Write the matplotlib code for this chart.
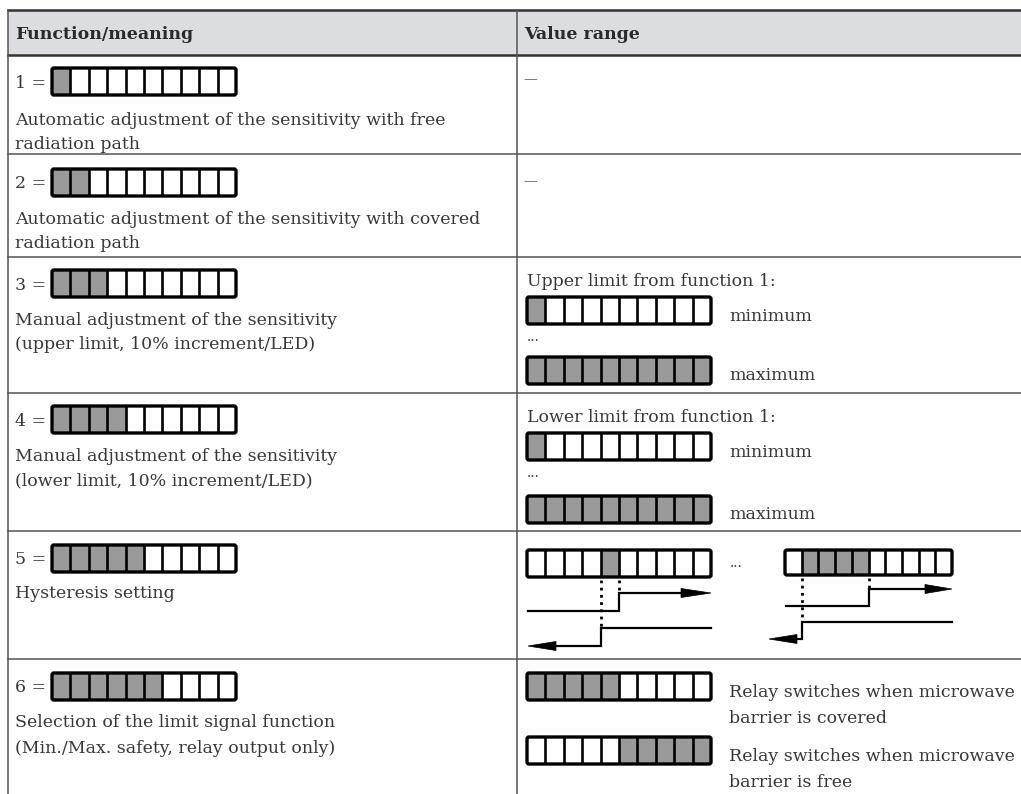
import matplotlib.pyplot as plt
from matplotlib.patches import Rectangle, FancyBboxPatch, Polygon

plt.rcParams['font.family'] = 'DejaVu Serif'

N_LEDS = 10
LIT = '#9a9a9a'
INK = '#383838'
FS = 12.5

# table content
header = ["Function/meaning", "Value range"]
func_ids = [1, 2, 3, 4, 5, 6]
func_lit = [1, 2, 3, 4, 5, 6]          # LEDs lit to show the function number
func_text = [
    ["Automatic adjustment of the sensitivity with free", "radiation path"],
    ["Automatic adjustment of the sensitivity with covered", "radiation path"],
    ["Manual adjustment of the sensitivity", "(upper limit, 10% increment/LED)"],
    ["Manual adjustment of the sensitivity", "(lower limit, 10% increment/LED)"],
    ["Hysteresis setting"],
    ["Selection of the limit signal function", "(Min./Max. safety, relay output only)"],
]
no_range = "—"
limit_titles = ["Upper limit from function 1:", "Lower limit from function 1:"]
limit_labels = ["minimum", "maximum"]
limit_leds = [[1, 0, 0, 0, 0, 0, 0, 0, 0, 0],
              [1, 1, 1, 1, 1, 1, 1, 1, 1, 1]]
hyst_leds = [[0, 0, 0, 0, 1, 0, 0, 0, 0, 0],
             [0, 1, 1, 1, 1, 0, 0, 0, 0, 0]]
relay_leds = [[1, 1, 1, 1, 1, 0, 0, 0, 0, 0],
              [0, 0, 0, 0, 0, 1, 1, 1, 1, 1]]
relay_text = [["Relay switches when microwave", "barrier is covered"],
              ["Relay switches when microwave", "barrier is free"]]

# layout (pixels)
W, H = 1021, 794
X_LEFT, X_DIV = 7.5, 517
ROW_LINES = [154, 257, 393, 531, 659]
BAR_W, BAR_H = 184, 27
left_bar_top = [68, 169, 270, 406, 545, 673]
left_text_y = [[125, 149], [224, 248], [325, 349], [461, 485], [598], [727, 753]]

fig = plt.figure(figsize=(W / 100, H / 100), dpi=100)
ax = fig.add_axes([0, 0, 1, 1])
ax.set_xlim(0, W)
ax.set_ylim(H, 0)
ax.axis('off')


def leds(x, y, w, h, states):
    cw = w / len(states)
    for i, s in enumerate(states):
        ax.add_patch(Rectangle((x + i * cw, y), cw, h, facecolor=LIT if s else 'white',
                               edgecolor='none', zorder=2))
    for i in range(1, len(states)):
        ax.plot([x + i * cw] * 2, [y, y + h], color='black', lw=1.9, zorder=3,
                solid_capstyle='butt')
    ax.add_patch(FancyBboxPatch((x, y), w, h, boxstyle='round,pad=0,rounding_size=2',
                                facecolor='none', edgecolor='black', lw=2.4, zorder=4))


def txt(x, y, s, **kw):
    ax.text(x, y, s, fontsize=kw.pop('fontsize', FS), color=kw.pop('color', INK),
            va=kw.pop('va', 'baseline'), ha='left', **kw)


def arrow_head(tip_x, y, direction, length=30, half=4.5):
    base = tip_x - direction * length
    ax.add_patch(Polygon([(tip_x, y), (base, y - half), (base, y + half)],
                         closed=True, facecolor='black', edgecolor='black', lw=0.5, zorder=3))


def hysteresis(x0, y0, w, h, states, lv, lower_tip, head_r):
    leds(x0, y0, w, h, states)
    cw = w / len(states)
    lit = [i for i, s in enumerate(states) if s]
    x_lo = x0 + lit[0] * cw
    x_hi = x0 + (lit[-1] + 1) * cw
    bottom = y0 + h
    up_lo, up_hi, dn_hi, dn_lo = lv
    ax.plot([x_lo, x_lo], [bottom + 3, dn_hi], color='black', lw=2,
            linestyle=(0, (1, 1.6)), zorder=2)
    ax.plot([x_hi, x_hi], [bottom + 3, up_hi], color='black', lw=2,
            linestyle=(0, (1, 1.6)), zorder=2)
    kw = dict(color='black', lw=1.6, zorder=3, solid_joinstyle='miter')
    ax.plot([x0 + 1, x_hi, x_hi, x0 + w - head_r], [up_lo, up_lo, up_hi, up_hi], **kw)
    arrow_head(x0 + w, up_hi, 1, length=head_r)
    ax.plot([x0 + w, x_lo, x_lo, lower_tip + 25], [dn_hi, dn_hi, dn_lo, dn_lo], **kw)
    arrow_head(lower_tip, dn_lo, -1, length=28)


# header band and grid
ax.add_patch(Rectangle((X_LEFT, 10), W - X_LEFT, 45, facecolor='#dcdde0',
                       edgecolor='none', zorder=0))
ax.plot([X_LEFT, W], [10, 10], color='#333333', lw=1.8, zorder=1)
ax.plot([X_LEFT, W], [55, 55], color='#333333', lw=1.8, zorder=1)
for yl in ROW_LINES:
    ax.plot([X_LEFT, W], [yl, yl], color='#555555', lw=1.1, zorder=1)
ax.plot([X_LEFT, X_LEFT], [10, H], color='#555555', lw=1.1, zorder=1)
ax.plot([X_DIV, X_DIV], [10, H], color='#555555', lw=1.1, zorder=1)

txt(15, 39, header[0], color='#2a2a2a', fontweight='bold', fontsize=12.5)
txt(524, 39, header[1], color='#2a2a2a', fontweight='bold', fontsize=12.5)

# left column: function number + LED code + meaning
for k, n in enumerate(func_ids):
    top = left_bar_top[k]
    txt(15, top + BAR_H / 2 + 6, f"{n} =")
    states = [1] * func_lit[k] + [0] * (N_LEDS - func_lit[k])
    leds(52, top, BAR_W, BAR_H, states)
    for line, yb in zip(func_text[k], left_text_y[k]):
        txt(15, yb, line)

# right column
XR = 527
txt(523, 79, no_range, va='center', fontsize=10, color='#555555')
txt(523, 181, no_range, va='center', fontsize=10, color='#555555')

for title, top in zip(limit_titles, [257, 393]):
    off = top - 257
    txt(XR, 286 + off, title)
    leds(XR, 297 + off, BAR_W, BAR_H, limit_leds[0])
    txt(729, 321 + off, limit_labels[0])
    txt(XR, 341 + off, "...", fontsize=10)
    leds(XR, 357 + off + (3 if off else 0), BAR_W, BAR_H, limit_leds[1])
    txt(729, 380 + off + (3 if off else 0), limit_labels[1])

hysteresis(XR, 550, BAR_W, BAR_H, hyst_leds[0], [611, 593, 628, 646], 528, 30)
txt(730, 567, "...", fontsize=10)
hysteresis(785, 550, 167, 25, hyst_leds[1], [606, 589, 622, 639], 769, 27)

for states, lines, top in zip(relay_leds, relay_text, [673, 737]):
    leds(XR, top, BAR_W, BAR_H, states)
    txt(729, top + 24, lines[0])
    txt(729, top + 50, lines[1])

fig.savefig('out.png', dpi=100)
